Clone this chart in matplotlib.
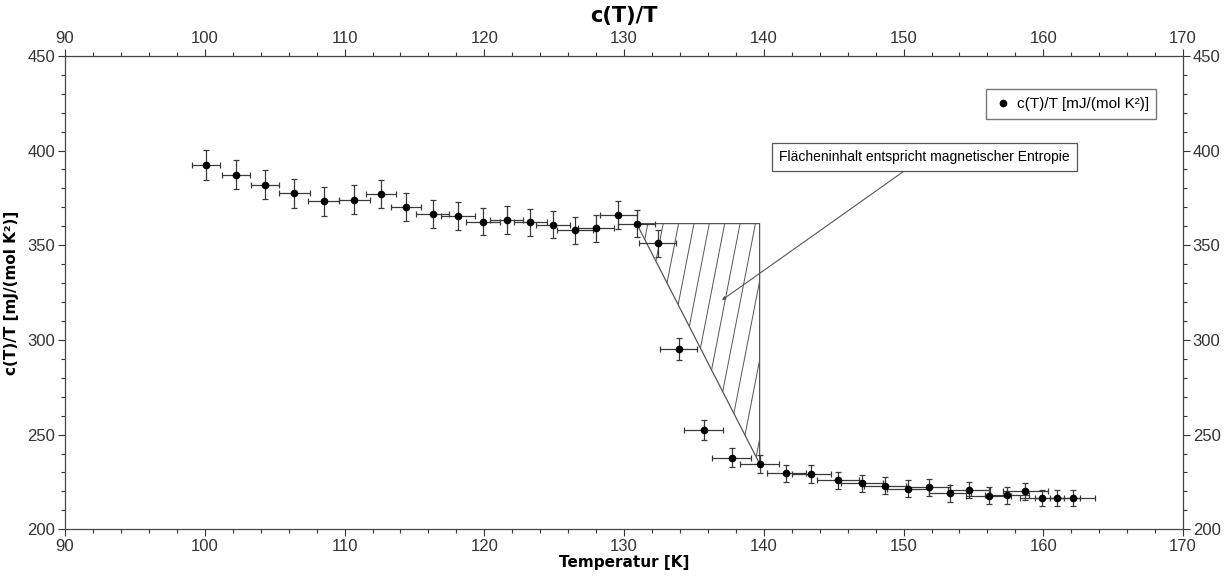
import matplotlib
matplotlib.use('Agg')
import matplotlib.pyplot as plt
import numpy as np
from matplotlib.patches import Polygon
from matplotlib.ticker import MultipleLocator

# Messwerte c(T)/T
temperatur = [100.1, 102.2, 104.3, 106.4, 108.5, 110.7, 112.6, 114.4, 116.3, 118.1,
              119.9, 121.6, 123.3, 124.9, 126.5, 128.0, 129.6, 130.9, 132.4, 133.9,
              135.7, 137.7, 139.7, 141.6, 143.4, 145.3, 147.0, 148.7, 150.3, 151.8,
              153.3, 154.7, 156.1, 157.4, 158.7, 159.9, 161.0, 162.1]
c_durch_t = [392.3, 387.3, 381.9, 377.5, 373.1, 374.1, 377.1, 370.1, 366.5, 365.3,
             362.5, 363.2, 362.0, 360.9, 357.9, 359.0, 365.8, 361.4, 350.9, 295.2,
             252.5, 237.9, 234.6, 229.5, 229.1, 226.0, 224.2, 223.0, 221.4, 222.2,
             218.9, 220.8, 217.8, 218.0, 220.1, 216.6, 216.6, 216.4]
t_fehler = [1.0, 1.0, 1.0, 1.1, 1.1, 1.1, 1.1, 1.1, 1.2, 1.2,
            1.2, 1.2, 1.2, 1.2, 1.3, 1.3, 1.3, 1.3, 1.3, 1.3,
            1.4, 1.4, 1.4, 1.4, 1.4, 1.5, 1.5, 1.5, 1.5, 1.5,
            1.5, 1.5, 1.6, 1.6, 1.6, 1.6, 1.6, 1.6]
c_fehler = [7.8, 7.7, 7.6, 7.6, 7.5, 7.5, 7.5, 7.4, 7.3, 7.3,
            7.3, 7.3, 7.2, 7.2, 7.2, 7.2, 7.3, 7.2, 7.0, 5.9,
            5.1, 4.8, 4.7, 4.6, 4.6, 4.5, 4.5, 4.5, 4.4, 4.4,
            4.4, 4.4, 4.4, 4.4, 4.4, 4.3, 4.3, 4.3]

# Ecken der Entropie-Flaeche (Messpunkt 18 bis 23)
i_start, i_ende = 17, 22

plt.rcParams['font.family'] = ['Liberation Sans', 'DejaVu Sans']

fig = plt.figure(figsize=(12.32, 5.76), dpi=100)
ax = fig.add_axes([0.0528, 0.0811, 0.9075, 0.822])

grau = '#3a3a3a'
ax.errorbar(temperatur, c_durch_t, xerr=t_fehler, yerr=c_fehler, fmt='none',
            ecolor=grau, elinewidth=0.9, capsize=2.5, capthick=0.9, zorder=3)
ax.plot(temperatur, c_durch_t, 'o', color='black', markersize=4.5,
        label='c(T)/T [mJ/(mol K²)]', zorder=4)

# Schraffierte Flaeche
x0, y0 = temperatur[i_start], c_durch_t[i_start]
x1, y1 = temperatur[i_ende], c_durch_t[i_ende]
dreieck = Polygon([(x0, y0), (x1, y0), (x1, y1)], closed=True, fill=False,
                  edgecolor='#555555', linewidth=0.9, zorder=2)
ax.add_patch(dreieck)
steigung = 37.9
for c in np.arange(x0 + 0.8, x1 + (y0 - y1) / steigung, 1.1):
    ln, = ax.plot([c - (y0 - y1) / steigung, c], [y1, y0], color='#555555',
                  linewidth=0.7, zorder=2)
    ln.set_clip_path(dreieck)

ax.annotate('Flächeninhalt entspricht magnetischer Entropie',
            xy=(137.0, 321.0), xytext=(151.5, 396.8),
            ha='center', va='center', fontsize=10,
            bbox=dict(boxstyle='square,pad=0.5', fc='white', ec='#555555', lw=0.9),
            arrowprops=dict(arrowstyle='-|>', color='#555555', lw=0.8,
                            mutation_scale=5, shrinkA=0, shrinkB=0))

ax.set_xlim(90, 170)
ax.set_ylim(200, 450)
ax.xaxis.set_major_locator(MultipleLocator(10))
ax.xaxis.set_minor_locator(MultipleLocator(2))
ax.yaxis.set_major_locator(MultipleLocator(50))
ax.yaxis.set_minor_locator(MultipleLocator(10))
ax.tick_params(which='both', direction='out', top=True, right=True,
               labeltop=True, labelright=True, colors='#333333', labelsize=12, pad=2)
ax.tick_params(which='major', length=5, width=0.8)
ax.tick_params(which='minor', length=3, width=0.8)
for s in ax.spines.values():
    s.set_color('#444444')
    s.set_linewidth(0.9)

ax.set_xlabel('Temperatur [K]', fontweight='bold', fontsize=11, family='DejaVu Sans', labelpad=1)
ax.set_ylabel('c(T)/T [mJ/(mol K²)]', fontweight='bold', fontsize=11, family='DejaVu Sans', labelpad=6)
fig.text(0.5065, 1 - 16 / 576, 'c(T)/T', ha='center', va='center',
         fontweight='bold', fontsize=15, family='DejaVu Sans')

ax.legend(loc='upper right', frameon=True, fancybox=False, edgecolor='#555555',
          fontsize=11, handletextpad=0.3, handlelength=1.2, borderpad=0.5,
          bbox_to_anchor=(0.983, 0.945))

fig.savefig('out.png', dpi=100)
